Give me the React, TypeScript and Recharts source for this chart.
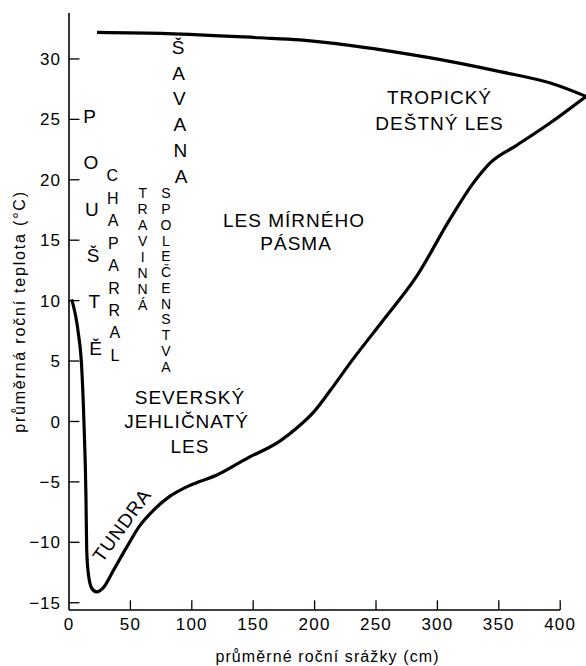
import React from 'react';
import { ComposedChart, Line, Scatter, XAxis, YAxis, ReferenceLine } from 'recharts';

const FONT = '"Liberation Sans", Arial, Helvetica, sans-serif';

// Upper boundary (annual precipitation cm, annual temperature °C)
const upperPrecip = [22.8, 80, 155, 188, 230, 270, 310, 351, 392, 421];
const upperTemp = [32.2, 32.1, 31.75, 31.57, 31.1, 30.5, 29.8, 28.95, 28.0, 26.9];

// Lower boundary
const lowerPrecip = [2.2, 7.6, 10.3, 12.2, 13.8, 14.4, 15.7, 18.5, 22.5, 28, 36, 47, 57.8, 68.7, 82, 95, 107, 120, 145, 172, 186, 199, 213, 229, 256, 283, 310, 329, 343, 364.5, 391.7, 421];
const lowerTemp = [10.1, 7.3, 4.55, -0.15, -6.2, -10.6, -12.55, -13.8, -14.1, -13.75, -12.35, -10.4, -8.6, -7.35, -6.2, -5.45, -4.95, -4.45, -3.05, -1.6, -0.5, 0.75, 2.6, 4.85, 8.4, 12.0, 16.7, 19.7, 21.4, 22.85, 24.7, 26.9];

const tempTicks = [-15, -10, -5, 0, 5, 10, 15, 20, 25, 30];
const precipTicks = [0, 50, 100, 150, 200, 250, 300, 350, 400];
const xDomain: [number, number] = [0, 421];
const yDomain: [number, number] = [-15.6, 33.8];

// Horizontal biome labels
const biomeTexts = ['TROPICKÝ', 'DEŠTNÝ LES', 'LES MÍRNÉHO', 'PÁSMA', 'SEVERSKÝ', 'JEHLIČNATÝ', 'LES', 'TUNDRA'];
const biomePrecip = [301.7, 301.7, 183.2, 184.9, 98.5, 95.7, 98.5, 42.9];
const biomeTemp = [26.85, 24.72, 16.67, 14.77, 2.05, 0.04, -2.03, -8.57];

// Vertical (stacked letter) labels
const stackTexts = ['POUŠTĚ', 'CHAPARRAL', 'TRAVINNÁ', 'SPOLEČENSTVA', 'ŠAVANA'];
const stackTopPrecip = [16.8, 35.3, 60, 79, 88.8];
const stackTopTemp = [25.28, 20.34, 18.88, 18.88, 30.99];
const stackBottomPrecip = [21.6, 37.5, 60, 79, 91.2];
const stackBottomTemp = [6.08, 5.5, 9.64, 4.53, 20.3];

const stackFontSize = [19, 16, 14, 14, 19];

const upperData = upperPrecip.map((x, i) => ({ x, y: upperTemp[i] }));
const lowerData = lowerPrecip.map((x, i) => ({ x, y: lowerTemp[i] }));
const biomeData = biomeTexts.map((t, i) => ({ x: biomePrecip[i], y: biomeTemp[i], t, i }));
const letterData = stackTexts.flatMap((word, s) => {
  const chars = Array.from(word);
  const n = chars.length;
  return chars.map((ch, j) => {
    const f = n > 1 ? j / (n - 1) : 0;
    return {
      x: stackTopPrecip[s] + (stackBottomPrecip[s] - stackTopPrecip[s]) * f,
      y: stackTopTemp[s] + (stackBottomTemp[s] - stackTopTemp[s]) * f,
      ch,
      s,
    };
  });
});

const fmtTemp = (v: number) => (v < 0 ? '\u2212' + Math.abs(v) : String(v));

const YTick = (props: any) => {
  const { x, y, payload } = props;
  return (
    <text x={x} y={y} dy="0.36em" textAnchor="end" fontFamily={FONT} fontSize={17} letterSpacing={1} fill="#000">
      {fmtTemp(payload.value)}
    </text>
  );
};

const XTick = (props: any) => {
  const { x, y, payload } = props;
  return (
    <text x={x} y={y} dy="0.71em" textAnchor="middle" fontFamily={FONT} fontSize={17} letterSpacing={1.2} fill="#000">
      {payload.value}
    </text>
  );
};

const XTitle = (props: any) => {
  const vb = props.viewBox || { x: 69, y: 610, width: 517, height: 56 };
  const cx = vb.x + vb.width / 2;
  const by = vb.y + vb.height - 4;
  return (
    <text x={cx} y={by} textAnchor="middle" fontFamily={FONT} fontSize={16} letterSpacing={1.1} fill="#000">
      průměrné roční srážky (cm)
    </text>
  );
};

const YTitle = (props: any) => {
  const vb = props.viewBox || { x: 0, y: 13, width: 69, height: 597 };
  const bx = vb.x + 25;
  const cy = vb.y + vb.height / 2;
  return (
    <text x={bx} y={cy} textAnchor="middle" transform={`rotate(-90 ${bx} ${cy})`} fontFamily={FONT} fontSize={16} letterSpacing={1.8} fill="#000">
      průměrná roční teplota (°C)
    </text>
  );
};

const BiomeShape = (props: any) => {
  const { cx, cy, payload } = props;
  const rot = payload.t === 'TUNDRA' ? -54 : 0;
  return (
    <text
      x={cx}
      y={cy}
      dy="0.36em"
      textAnchor="middle"
      transform={rot ? `rotate(${rot} ${cx} ${cy})` : undefined}
      fontFamily={FONT}
      fontSize={19}
      letterSpacing={1}
      fill="#000"
    >
      {payload.t}
    </text>
  );
};

const LetterShape = (props: any) => {
  const { cx, cy, payload } = props;
  return (
    <text x={cx} y={cy} dy="0.36em" textAnchor="middle" fontFamily={FONT} fontSize={stackFontSize[payload.s]} fill="#000">
      {payload.ch}
    </text>
  );
};

export default function App() {
  const ymin = yDomain[0];
  return (
    <div style={{ position: 'absolute', left: 0, top: 0, width: 586, height: 666, background: '#fff' }}>
      <ComposedChart width={586} height={666} margin={{ top: 13, right: 0, bottom: 0, left: 0 }}>
        <XAxis
          type="number"
          dataKey="x"
          domain={xDomain}
          allowDataOverflow
          ticks={precipTicks}
          interval={0}
          axisLine={false}
          tickLine={false}
          height={56}
          tick={<XTick />}
          label={<XTitle />}
        />
        <YAxis
          type="number"
          dataKey="y"
          domain={yDomain}
          allowDataOverflow
          ticks={tempTicks}
          interval={0}
          axisLine={{ stroke: '#000', strokeWidth: 1.6 }}
          tickLine={false}
          width={69}
          tick={<YTick />}
          label={<YTitle />}
        />
        <ReferenceLine
          segment={[{ x: 0, y: ymin }, { x: 400, y: ymin }]}
          stroke="#000"
          strokeWidth={1.6}
          ifOverflow="visible"
        />
        {tempTicks.map((t) => (
          <ReferenceLine
            key={'yt' + t}
            segment={[{ x: 0, y: t }, { x: 8.5, y: t }]}
            stroke="#000"
            strokeWidth={1.3}
            ifOverflow="visible"
          />
        ))}
        {precipTicks.filter((p) => p > 0).map((p) => (
          <ReferenceLine
            key={'xt' + p}
            segment={[{ x: p, y: ymin }, { x: p, y: ymin + 0.8 }]}
            stroke="#000"
            strokeWidth={1.3}
            ifOverflow="visible"
          />
        ))}
        <Line
          data={upperData}
          dataKey="y"
          type="monotone"
          stroke="#000"
          strokeWidth={3.2}
          dot={false}
          activeDot={false}
          isAnimationActive={false}
          legendType="none"
        />
        <Line
          data={lowerData}
          dataKey="y"
          type="monotone"
          stroke="#000"
          strokeWidth={3.2}
          dot={false}
          activeDot={false}
          isAnimationActive={false}
          legendType="none"
        />
        <Scatter data={biomeData} dataKey="y" shape={<BiomeShape />} isAnimationActive={false} legendType="none" />
        <Scatter data={letterData} dataKey="y" shape={<LetterShape />} isAnimationActive={false} legendType="none" />
      </ComposedChart>
    </div>
  );
}
